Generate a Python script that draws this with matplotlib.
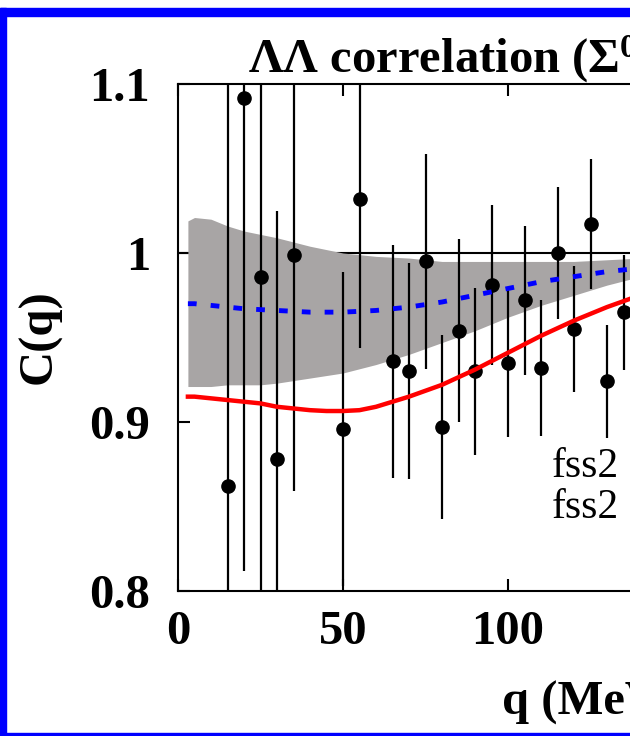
import matplotlib
matplotlib.use("Agg")
import matplotlib.pyplot as plt
from matplotlib.patches import Rectangle

# DATA
# measured points (q in MeV/c)
Q = [15, 20, 25, 30, 35, 50, 55, 65, 70, 75, 80, 85, 90, 95, 100,
     105, 110, 115, 120, 125, 130, 135, 140]
C = [0.862, 1.092, 0.986, 0.878, 0.999, 0.896, 1.032, 0.936, 0.930, 0.995,
     0.897, 0.954, 0.930, 0.981, 0.935, 0.972, 0.932, 1.000, 0.955, 1.017,
     0.924, 0.965, 0.950]
ERR = [0.25, 0.28, 0.20, 0.147, 0.14, 0.093, 0.088, 0.069, 0.064, 0.0635,
       0.0545, 0.054, 0.0495, 0.0475, 0.044, 0.044, 0.040, 0.039, 0.0375,
       0.0385, 0.0335, 0.034, 0.032]

# gray band
BAND_Q = [3, 5, 10, 15, 20, 25, 30, 40, 50, 60, 70, 80, 90, 100, 110,
          120, 130, 140, 150]
BAND_LO = [0.921, 0.921, 0.921, 0.922, 0.922, 0.922, 0.923, 0.926, 0.929,
           0.934, 0.940, 0.947, 0.954, 0.962, 0.969, 0.975, 0.981, 0.986,
           0.989]
BAND_HI = [1.019, 1.021, 1.020, 1.016, 1.013, 1.011, 1.009, 1.004, 1.000,
           0.998, 0.997, 0.995, 0.995, 0.995, 0.995, 0.995, 0.996, 0.997,
           0.998]

# fss2 curves
CURVE_Q = [3, 5, 10, 15, 20, 25, 30, 35, 40, 45, 50, 55, 60, 65, 70, 75,
           80, 85, 90, 95, 100, 105, 110, 115, 120, 125, 130, 135, 140,
           145, 150]
RED_C = [0.915, 0.915, 0.914, 0.913, 0.912, 0.911, 0.909, 0.908, 0.907,
         0.9065, 0.9065, 0.907, 0.909, 0.912, 0.915, 0.9185, 0.922, 0.9265,
         0.931, 0.936, 0.941, 0.946, 0.951, 0.9555, 0.960, 0.964, 0.968,
         0.9715, 0.975, 0.978, 0.980]
BLUE_C = [0.970, 0.970, 0.969, 0.968, 0.967, 0.9665, 0.966, 0.9655, 0.965,
          0.965, 0.965, 0.9655, 0.966, 0.967, 0.968, 0.9695, 0.971, 0.973,
          0.975, 0.977, 0.979, 0.981, 0.983, 0.9845, 0.986, 0.9875, 0.989,
          0.990, 0.991, 0.992, 0.993]

XTICKS = [0, 50, 100, 150, 200]
YTICKS = [0.8, 0.9, 1.0, 1.1]
YTICKLABELS = ['0.8', '0.9', '1', '1.1']

plt.rcParams['font.family'] = ['Liberation Serif', 'DejaVu Serif']
plt.rcParams['font.weight'] = 'bold'
plt.rcParams['mathtext.fontset'] = 'custom'
plt.rcParams['mathtext.rm'] = 'Liberation Serif:bold'
plt.rcParams['mathtext.default'] = 'rm'

W, H = 630, 736
FS = 35


def fx(x):
    return x / W


def fy(y):
    return 1 - y / H


fig = plt.figure(figsize=(W / 100, H / 100), dpi=100)

# blue frame (left, top, bottom strips)
fig.patches.append(Rectangle((0, 0), fx(6), fy(8), transform=fig.transFigure,
                             color='#0000ff', zorder=0))
fig.patches.append(Rectangle((0, fy(16)), 1, 8 / H, transform=fig.transFigure,
                             color='#0000ff', zorder=0))
fig.patches.append(Rectangle((0, 0), 1, 3 / H, transform=fig.transFigure,
                             color='#0000ff', zorder=0))

# axes runs past the right edge (the picture is cropped)
ax = fig.add_axes([fx(178), fy(591), 660 / W, (591 - 84) / H])

ax.axhline(1.0, color='black', lw=1.5, zorder=1)
ax.fill_between(BAND_Q, BAND_LO, BAND_HI, color='#a8a5a5', lw=0, zorder=2)
ax.errorbar(Q, C, yerr=ERR, fmt='o', color='black', ms=9.5,
            elinewidth=1.6, capsize=0, zorder=4)
blue, = ax.plot(CURVE_Q, BLUE_C, color='#0000ff', lw=3.5, zorder=5)
blue.set_dashes((1.8, 2.9))
ax.plot(CURVE_Q, RED_C, color='#ff0000', lw=3.2, zorder=6)

ax.set_xlim(0, 200)
ax.set_ylim(0.8, 1.1)
ax.set_xticks(XTICKS)
ax.set_yticks(YTICKS)
ax.set_yticklabels(YTICKLABELS)
ax.tick_params(direction='in', length=8.5, width=1.5, top=True, right=True,
               labelsize=FS, pad=14)
ax.tick_params(axis='y', pad=20)
for s in ax.spines.values():
    s.set_linewidth(1.5)

# texts
fig.text(fx(248), fy(73), 'ΛΛ correlation (Σ$^{0}$)', fontsize=FS,
         ha='left', va='baseline')
fig.text(fx(40), fy(337), 'C(q)', fontsize=FS, rotation=90,
         ha='center', va='center')
fig.text(fx(502), fy(715), 'q (MeV/c)', fontsize=FS, ha='left',
         va='baseline')
fig.text(fx(552), fy(477), 'fss2', fontsize=30, fontweight='normal',
         ha='left', va='baseline')
fig.text(fx(552), fy(518), 'fss2', fontsize=30, fontweight='normal',
         ha='left', va='baseline')

fig.savefig('out.png', dpi=100)
